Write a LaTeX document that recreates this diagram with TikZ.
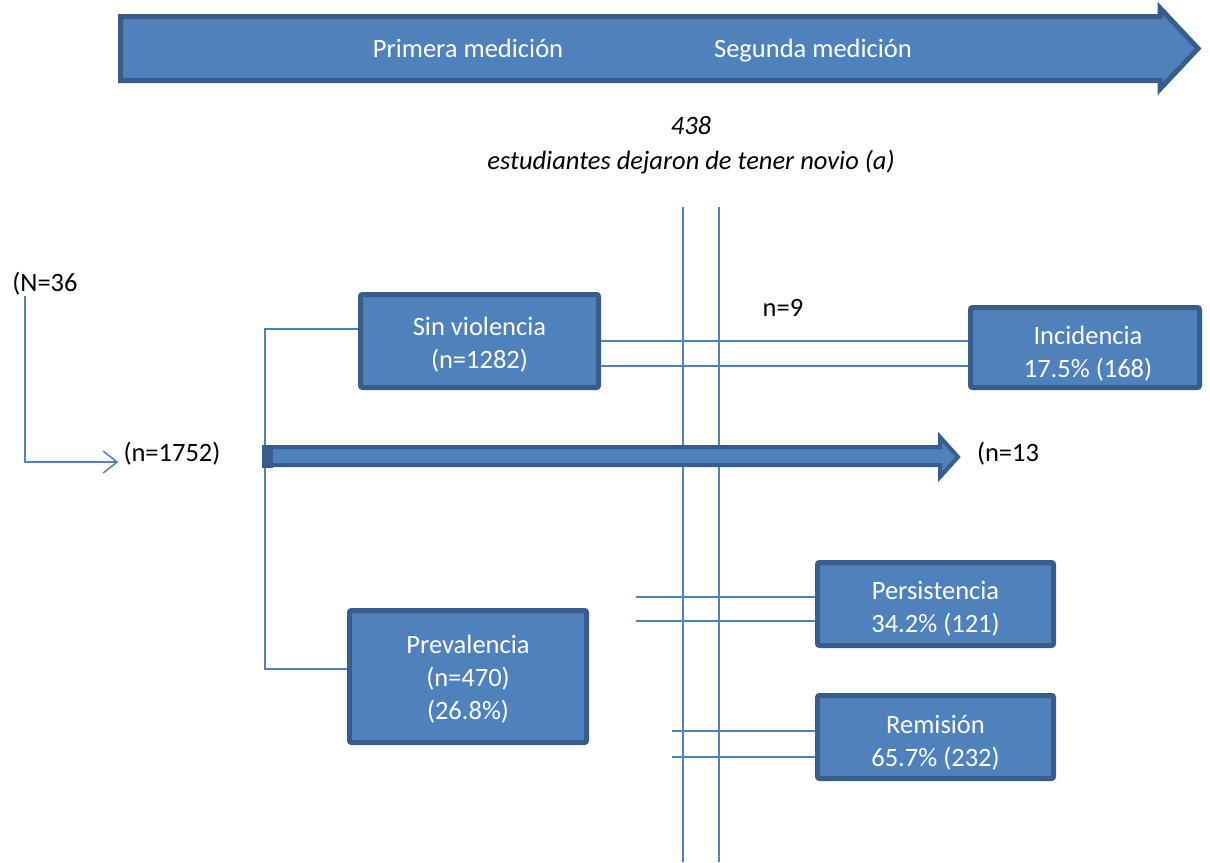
\documentclass[tikz,border=0pt]{standalone}
\usepackage{fontspec}
\setmainfont{Carlito}
\usetikzlibrary{calc,arrows.meta}
\definecolor{azul}{HTML}{4F81BD}
\definecolor{borde}{HTML}{385D8A}
\tikzset{
	caja/.style={draw=borde, fill=azul, line width=5pt, rounded corners=2pt},
	linea/.style={draw=azul, line width=1.5pt},
	texto/.style={font=\fontsize{26.5}{33}\selectfont, inner sep=0pt, align=center},
	blanco/.style={texto, text=white},
	flecha/.style={draw=borde, fill=azul, line join=miter},
}

\begin{document}
\begin{tikzpicture}[x=1pt, y=-1pt]
			%%%%% START %%%%%
			\useasboundingbox (0,0) rectangle (1210,862);
			
			% flecha de tiempo
			\draw[flecha, line width=5pt] (120.5,16.5) -- (1160,16.5) -- (1160,8) -- (1198,48.5) -- (1160,89) -- (1160,80.5) -- (120.5,80.5) -- cycle;
			\node[blanco, text height=13pt, text depth=4pt] (primera) at (468,53) {Primera medición};
			\node[blanco, text height=13pt, text depth=4pt] (segunda) at (813,53) {Segunda medición};
			
			\node[texto, font=\fontsize{26.5}{35}\selectfont\itshape] (novio) at (691,145) {438\\estudiantes dejaron de tener novio (a)};
			
			% lineas verticales
			\draw[linea] (683,207) -- (683,862);
			\draw[linea] (719,207) -- (719,862);
			
			% cajas
			\node[caja, minimum width=238pt, minimum height=93pt] (sinv) at (479.5,341) {};
			\node[caja, minimum width=229pt, minimum height=80pt] (inc) at (1085,347.5) {};
			\node[caja, minimum width=237pt, minimum height=132pt] (prev) at (468,676.5) {};
			\node[caja, minimum width=236pt, minimum height=83pt] (pers) at (935.5,604) {};
			\node[caja, minimum width=236pt, minimum height=83pt] (rem) at (935.5,737) {};
			
			\node[blanco] (sinvt) at ($(sinv)+(0,4)$) {Sin violencia\\(n=1282)};
			\node[blanco] (inct) at ($(inc)+(3,6)$) {Incidencia\\17.5\% (168)};
			\node[blanco] (prevt) at ($(prev)+(0,3)$) {Prevalencia\\(n=470)\\(26.8\%)};
			\node[blanco] (perst) at ($(pers)+(0,5)$) {Persistencia\\34.2\% (121)};
			\node[blanco] (remt) at ($(rem)+(0,6)$) {Remisión\\65.7\% (232)};
			
			\node[texto] (N36) at (45,284) {(N=36};
			\node[texto] (n1752) at (172,454) {(n=1752)};
			\node[texto] (n9) at (783,308) {n=9};
			\node[texto] (n13) at (1008,454) {(n=13};
			
			% conexiones
			\draw[linea] (sinv.west |- 0,329) -| (265,669) -- (prev.west |- 0,669);
			
			\coordinate (s1) at ($(sinv.east)+(0,25)$);
			\draw[linea] (sinv.east) -- (sinv.east -| inc.west);
			\draw[linea] (s1) -- (s1 -| inc.west);
			
			\coordinate (p0) at (636,597);
			\coordinate (p1) at (636,621);
			\draw[linea] (p0) -- (p0 -| pers.west);
			\draw[linea] (p1) -- (p1 -| pers.west);
			
			\coordinate (r0) at (672,731);
			\coordinate (r1) at (672,757);
			\draw[linea] (r0) -- (r0 -| rem.west);
			\draw[linea] (r1) -- (r1 -| rem.west);
			
			\draw[linea, -{Straight Barb[length=14pt, width=22pt, line width=1.5pt]}] (N36.south -| 25,0) |- ($(n1752.west)+(-5,8)$);
			
			% flecha gruesa
			\coordinate (ini) at (264,456);
			\coordinate (fin) at (958,457);
			\draw[flecha, line width=4pt] ($(ini)+(0,-9)$) -- (940,447) -- (940,437) -- (fin) -- (940,477) -- (940,465) -- ($(ini)+(0,9)$) -- cycle;
			\fill[borde] (262,445) rectangle (273,468);
			
			%%%%% END %%%%%
\end{tikzpicture}
\end{document}
